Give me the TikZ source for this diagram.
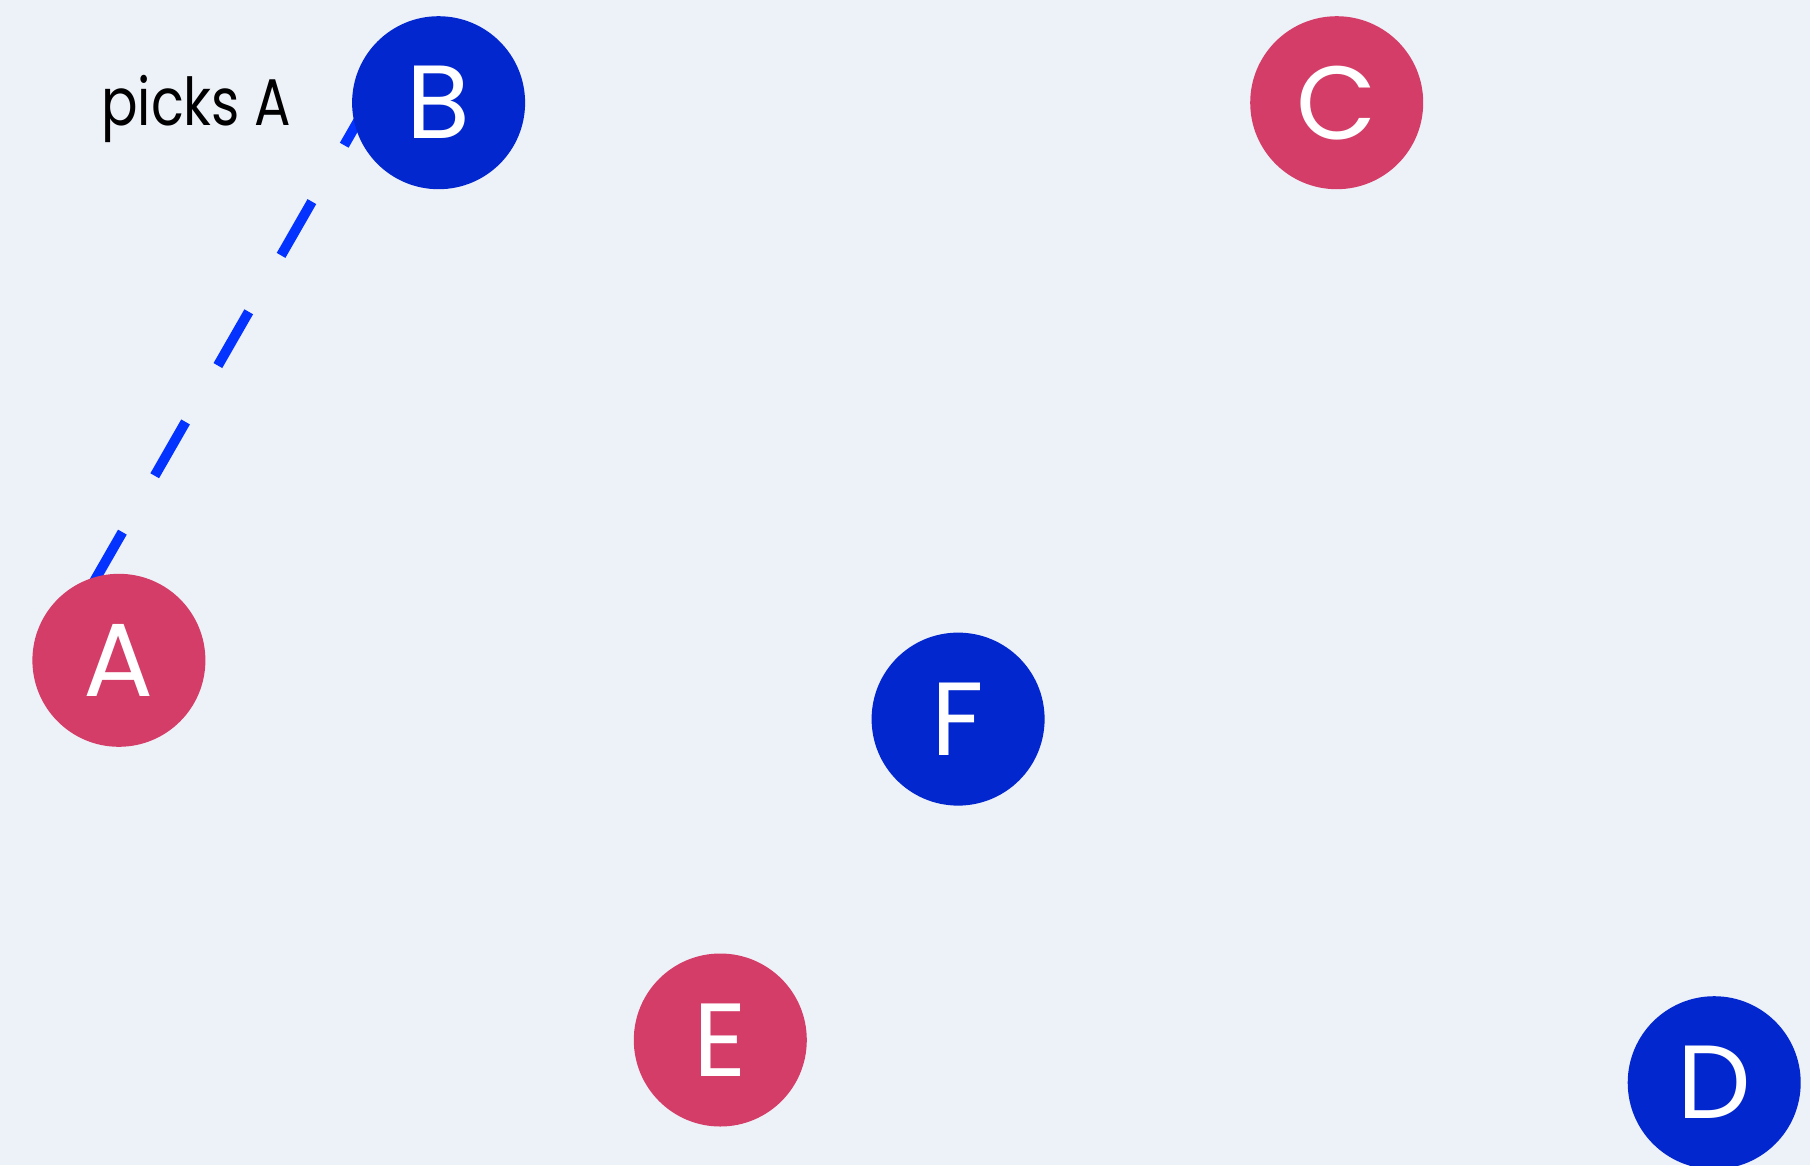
\documentclass[tikz,border=0pt]{standalone}
\usepackage{fontspec}
\setmainfont{Poppins}
\definecolor{bgc}{HTML}{EDF1F8}
\definecolor{redc}{HTML}{D43D68}
\definecolor{bluec}{HTML}{0327CE}
\definecolor{linec}{HTML}{0433FF}
\begin{document}
\begin{tikzpicture}[x=1pt,y=-1pt,
  dot/.style={circle,minimum size=173pt,inner sep=0pt,text=white,font=\fontsize{104}{104}\selectfont},
  reddot/.style={dot,fill=redc},
  bluedot/.style={dot,fill=bluec},
  pick/.style={draw=linec,line width=10pt,dash pattern=on 62pt off 65pt,dash phase=13pt}]
\fill[bgc] (0,0) rectangle (1810,1165);
\useasboundingbox (0,0) rectangle (1810,1165);
\coordinate (Bc) at (438.6,102.7);
\coordinate (Ac) at (118.9,660.3);
\draw[pick] ([xshift=-70pt]Bc) -- ([xshift=-70pt]Ac);
\node[bluedot] (B) at (Bc) {B};
\node[reddot] (A) at (Ac) {A};
\node[reddot] (C) at (1336.7,102.7) {C};
\node[bluedot] (F) at (958.1,719.1) {F};
\node[reddot] (E) at (720.3,1040.0) {E};
\node[bluedot] (D) at (1714.2,1082.7) {D};
\node[anchor=base west,inner sep=0pt,font=\fontsize{66}{66}\selectfont] (lbl) at (101,125) {\scalebox{0.82}[1]{picks A}};
\end{tikzpicture}
\end{document}
